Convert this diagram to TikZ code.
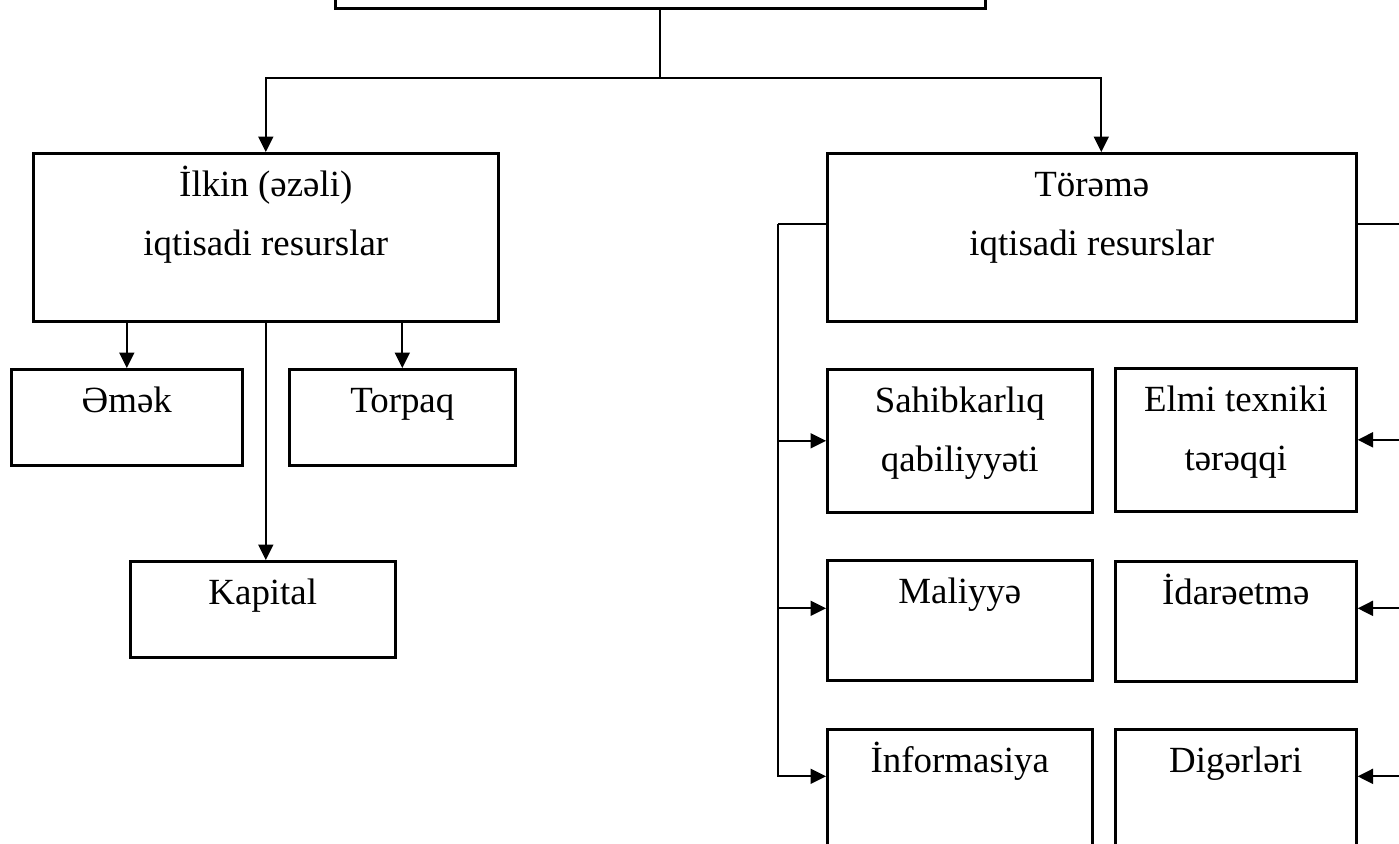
\documentclass[tikz,border=0pt]{standalone}
\usepackage{fontspec}
\setmainfont{Liberation Serif}
\usetikzlibrary{arrows.meta, positioning, calc}

\begin{document}
\begin{tikzpicture}[
    x=0.02cm, y=-0.02cm,
    % Node styles
    resbox/.style={
        rectangle,
        draw=black,
        line width=1.5pt,
        anchor=north west,
        inner sep=0pt,
        text height=0.86cm,
        align=center,
        font=\fontsize{21}{33.5}\selectfont
    },
    tworow/.style={
        text height=2.04cm
    },
    arrow/.style={
        -{Triangle[length=0.31cm, width=0.3cm]},
        line width=1.1pt,
        black
    },
    line/.style={
        line width=1.1pt,
        black
    }
]

\useasboundingbox (0,0) rectangle (1399,843);
\clip (0,0) rectangle (1399,843);

% === Top (cut off) ===
\node[resbox, anchor=south west, minimum width=13cm, minimum height=2.4cm] (top) at (334,10) {};

% === Ilkin resources (Left) ===
\node[resbox, tworow, minimum width=9.3cm, text depth=1.32cm] (ilkin) at (32,152) {İlkin (əzəli)\\iqtisadi resurslar};
\node[resbox, minimum width=4.62cm, text depth=1.06cm] (emek) at (10,368) {Əmək};
\node[resbox, minimum width=4.52cm, text depth=1.06cm] (torpaq) at (288,368) {Torpaq};
\node[resbox, minimum width=5.3cm, text depth=1.06cm] (kapital) at (129,560) {Kapital};

% === Torema resources (Right) ===
\node[resbox, tworow, minimum width=10.58cm, text depth=1.32cm] (torem) at (826,152) {Törəmə\\iqtisadi resurslar};
\node[resbox, tworow, minimum width=5.3cm, text depth=0.82cm] (sahib) at (826,368) {Sahibkarlıq\\qabiliyyəti};
\node[resbox, tworow, minimum width=4.82cm, text depth=0.82cm] (elmi) at (1114,367) {Elmi texniki\\tərəqqi};
\node[resbox, minimum width=5.3cm, text depth=1.54cm] (maliyye) at (826,559) {Maliyyə};
\node[resbox, minimum width=4.82cm, text depth=1.54cm] (idare) at (1114,560) {İdarəetmə};
\node[resbox, minimum width=5.3cm, text depth=2.2cm] (info) at (826,728) {İnformasiya};
\node[resbox, minimum width=4.82cm, text depth=2.2cm] (diger) at (1114,728) {Digərləri};

% === Arrows ===
\draw[line] (top.south) -- ++(0,68) coordinate (split);
\draw[arrow] (split) -| (ilkin.north);
\draw[arrow] (split) -| ([xshift=0.19cm]torem.north);

\draw[arrow] (emek.north |- ilkin.south) -- (emek.north);
\draw[arrow] (torpaq.north |- ilkin.south) -- (torpaq.north);
\draw[arrow] (ilkin.south) -- (ilkin.south |- kapital.north);

% === Side buses ===
\draw[line] ([yshift=0.26cm]torem.west) -- ++(-48,0) coordinate (lbus);
\draw[arrow] (lbus) |- (sahib.west);
\draw[arrow] (lbus) |- ([yshift=0.24cm]maliyye.west);
\draw[arrow] (lbus) |- ([yshift=0.59cm]info.west);

\draw[line] ([yshift=0.26cm]torem.east) -- ++(80,0) coordinate (rbus);
\draw[arrow] (rbus) |- (elmi.east);
\draw[arrow] (rbus) |- ([yshift=0.26cm]idare.east);
\draw[arrow] (rbus) |- ([yshift=0.59cm]diger.east);

\end{tikzpicture}
\end{document}
